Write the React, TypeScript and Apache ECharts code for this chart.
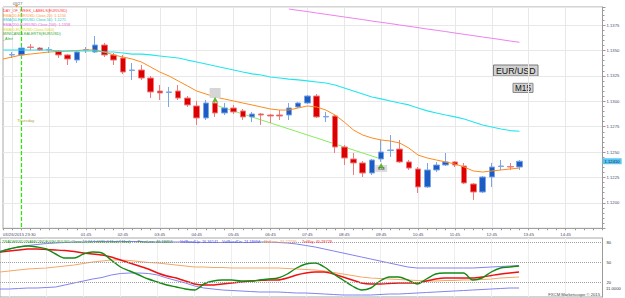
import React, { useEffect, useRef } from "react";
import * as echarts from "echarts";

const times: string[] = [
  "23:30", "23:45", "00:00", "00:15", "00:30", "00:45", "01:00", "01:15", "01:30", "01:45",
  "02:00", "02:15", "02:30", "02:45", "03:00", "03:15", "03:30", "03:45", "04:00", "04:15",
  "04:30", "04:45", "05:00", "05:15", "05:30", "05:45", "06:00", "06:15", "06:30", "06:45",
  "07:00", "07:15", "07:30", "07:45", "08:00", "08:15", "08:30", "08:45", "09:00", "09:15",
  "09:30", "09:45", "10:00", "10:15", "10:30", "10:45", "11:00", "11:15", "11:30", "11:45",
  "12:00", "12:15", "12:30", "12:45", "13:00", "13:15", "13:30", "13:45", "14:00", "14:15",
  "14:30", "14:45", "15:00", "15:15", "15:30", "15:45",
];
const firstLabel = "03/26/2015 23:30";
const labelTimes: string[] = [
  "01:45", "02:45", "03:45", "04:45", "05:45", "06:45", "07:45", "08:45",
  "09:45", "10:45", "11:45", "12:45", "13:45", "14:45",
];
const daySeparator = "00:00";
const priceMin = 1.1175;
const priceMax = 1.13928;

// [open, close, low, high]
const candles: (number[] | string)[] = [
  "-",
  [1.13456, 1.1346, 1.13426, 1.13485],
  [1.13456, 1.13524, 1.13436, 1.13544],
  [1.13534, 1.1353, 1.13505, 1.13564],
  [1.13524, 1.13505, 1.13495, 1.13534],
  [1.13505, 1.1351, 1.13475, 1.13534],
  [1.13495, 1.13456, 1.13426, 1.13505],
  [1.13456, 1.13416, 1.13357, 1.13465],
  [1.13406, 1.13485, 1.13377, 1.13505],
  [1.13505, 1.1351, 1.13475, 1.13534],
  [1.13485, 1.13554, 1.13475, 1.13643],
  [1.13554, 1.13456, 1.13436, 1.13574],
  [1.13456, 1.13406, 1.13357, 1.13475],
  [1.13426, 1.13288, 1.13268, 1.13456],
  [1.13303, 1.13308, 1.1321, 1.13377],
  [1.13308, 1.13229, 1.1321, 1.13357],
  [1.13229, 1.13092, 1.13032, 1.13249],
  [1.13101, 1.13082, 1.13013, 1.1316],
  [1.13087, 1.13092, 1.12944, 1.13141],
  [1.13101, 1.13032, 1.13013, 1.1316],
  [1.13032, 1.12964, 1.12944, 1.13052],
  [1.12954, 1.12836, 1.12767, 1.13003],
  [1.12836, 1.12983, 1.12816, 1.13013],
  [1.12983, 1.12885, 1.12846, 1.13032],
  [1.12885, 1.12934, 1.12865, 1.12983],
  [1.12934, 1.12895, 1.12875, 1.12964],
  [1.12905, 1.12846, 1.12816, 1.12924],
  [1.12846, 1.12875, 1.12796, 1.12895],
  [1.12875, 1.12865, 1.12767, 1.12885],
  [1.12865, 1.12855, 1.12786, 1.12875],
  [1.12865, 1.12855, 1.12816, 1.12914],
  [1.12865, 1.12934, 1.12816, 1.12983],
  [1.12944, 1.12983, 1.12934, 1.12993],
  [1.12983, 1.13052, 1.12973, 1.13062],
  [1.13052, 1.12846, 1.12836, 1.13072],
  [1.12846, 1.12851, 1.12796, 1.12895],
  [1.12855, 1.1255, 1.12491, 1.12865],
  [1.1255, 1.12442, 1.12373, 1.1257],
  [1.12432, 1.12393, 1.12275, 1.12491],
  [1.12393, 1.12294, 1.12255, 1.12412],
  [1.12294, 1.12422, 1.12275, 1.12432],
  [1.12432, 1.12501, 1.12403, 1.12619],
  [1.12516, 1.12521, 1.12452, 1.12668],
  [1.1253, 1.12403, 1.12393, 1.12619],
  [1.12403, 1.12343, 1.12324, 1.12422],
  [1.12334, 1.12157, 1.12097, 1.12353],
  [1.12157, 1.12324, 1.12147, 1.12393],
  [1.12324, 1.12373, 1.12304, 1.12403],
  [1.12373, 1.12403, 1.12363, 1.12491],
  [1.12403, 1.12373, 1.12353, 1.12412],
  [1.12363, 1.12196, 1.12186, 1.12393],
  [1.12186, 1.12107, 1.12029, 1.12196],
  [1.12107, 1.12255, 1.12097, 1.12265],
  [1.12255, 1.12353, 1.12157, 1.12393],
  [1.12358, 1.12363, 1.12324, 1.12422],
  [1.12358, 1.12353, 1.12324, 1.12393],
  [1.12353, 1.1241, 1.12324, 1.12422],
];

const ema20: number[] = [
  1.13416, 1.13436, 1.13456, 1.13465, 1.13475, 1.13485, 1.1349, 1.13495, 1.135, 1.13505,
  1.13505, 1.13485, 1.13456, 1.13436, 1.13416, 1.13387, 1.13338, 1.13288, 1.13249, 1.132,
  1.13151, 1.13101, 1.13072, 1.13042, 1.13023, 1.13003, 1.12983, 1.12964, 1.12944, 1.12924,
  1.12914, 1.12914, 1.12934, 1.12954, 1.12944, 1.12914, 1.12865, 1.12796, 1.12717, 1.12668,
  1.12639, 1.12619, 1.12609, 1.1259, 1.1254, 1.12471, 1.12442, 1.12422, 1.12403, 1.12383,
  1.12353, 1.12314, 1.12304, 1.12314, 1.12324, 1.12334, 1.12343,
];

const ema50: number[] = [
  1.13505, 1.13505, 1.13505, 1.13505, 1.13505, 1.13505, 1.13495, 1.13495, 1.13495, 1.13495,
  1.13495, 1.13485, 1.13485, 1.13475, 1.13465, 1.13465, 1.13456, 1.13446, 1.13436, 1.13426,
  1.13406, 1.13387, 1.13367, 1.13347, 1.13328, 1.13308, 1.13288, 1.13269, 1.13259, 1.13239,
  1.13229, 1.13219, 1.1321, 1.132, 1.1319, 1.1318, 1.1316, 1.13131, 1.13101, 1.13072,
  1.13042, 1.13023, 1.13003, 1.12983, 1.12964, 1.12934, 1.12905, 1.12885, 1.12865, 1.12846,
  1.12826, 1.12796, 1.12767, 1.12747, 1.12727, 1.12712, 1.12705,
];

// EMA200 from 07:15 onwards (earlier values are above the visible window)
const ema200Start = "07:15";
const ema200: number[] = [
  1.13908, 1.13895, 1.13883, 1.13869, 1.13856, 1.13843, 1.1383, 1.13817, 1.13804,
  1.1379, 1.13777, 1.13765, 1.13751, 1.13738, 1.13725, 1.13711, 1.13699, 1.13686, 1.13672,
  1.13659, 1.13646, 1.13633, 1.1362, 1.13607, 1.13593, 1.13581,
];

const trendTimes: string[] = ["05:15", "09:45"];
const trendValues: number[] = [1.12964, 1.12432];

const priceLine: number[] = [
  65, 69.5, 72.5, 74, 72.5, 69.5, 62, 56, 56, 62,
  65, 63.5, 53, 42.5, 36.5, 30.5, 24.5, 20, 15.5, 12.5,
  9.5, 8, 17, 21.5, 23, 23, 21.5, 21.5, 23, 24.5,
  26, 32, 41, 47, 48.5, 42.5, 32, 23, 14, 8,
  11, 21.5, 27.5, 27.5, 23, 17, 24.5, 32, 33.5, 33.5,
  33.5, 23, 26, 35, 41, 42.5, 44,
];

const tradeSignal: number[] = [
  65, 66.5, 68, 69.5, 69.5, 68.75, 68, 67.25, 65.75, 63.5,
  62, 60.5, 57.5, 53, 48.5, 44, 39.5, 33.5, 29, 26,
  21.5, 17, 15.5, 15.5, 17, 18.5, 20, 21.5, 22.25, 23,
  23, 26, 30.5, 33.5, 35, 35, 32, 27.5, 23, 18.5,
  17, 17, 17.75, 18.5, 18.5, 18.5, 21.5, 24.5, 26, 26,
  26, 26, 27.5, 29.75, 32, 33.5, 35,
];

const midLine: number[] = [
  35, 36.5, 38, 39.5, 40.25, 41, 42.5, 44, 45.5, 47.75,
  50, 51.5, 53, 53, 52.25, 50.75, 49.25, 48.5, 47, 45.5,
  44, 42.5, 42.5, 41.75, 41.75, 41, 41, 41, 41, 41,
  41, 40.25, 39.5, 38.75, 38, 36.5, 34.25, 32, 29.75, 27.5,
  26, 25.25, 24.5, 23.75, 23, 22.25, 21.5, 21.5, 22.25, 22.25,
  23, 23, 23.75, 24.5, 26, 26.75, 27.5,
];

const volBandUp: number[] = [
  66.5, 69.5, 72.5, 74.75, 76.25, 77.75, 78.5, 79.25, 80, 80,
  80.75, 80.75, 80.75, 80.75, 80.75, 80.75, 80, 80, 80, 80,
  80, 79.25, 79.25, 79.25, 79.25, 79.25, 79.25, 79.25, 80, 80,
  79.25, 78.5, 77, 74.75, 72.5, 69.5, 66.5, 63.5, 60.5, 57.5,
  54.5, 51.5, 48.5, 45.5, 42.5, 41, 41, 41, 41, 41,
  41, 41, 41.75, 42.5, 43.25, 44, 44.75,
];

const volBandDn: number[] = [
  9.5, 9.5, 10.25, 11, 11, 11.75, 12.5, 15.5, 18.5, 21.5,
  24.5, 26.75, 30.5, 32.75, 33.5, 33.5, 32.75, 30.5, 26, 22.25,
  18.5, 14, 11, 9.5, 8, 7.25, 6.5, 5.75, 5, 5,
  5, 4.25, 3.5, 3.5, 2.75, 2, 1.25, 0.5, 0.5, 0.5,
  0.5, 1.25, 2, 2, 2.75, 3.5, 4.25, 5, 5.75, 6.5,
  7.25, 8, 8.75, 9.5, 10.25, 11, 11,
];

const levels: number[] = [80, 50, 20];
const lastPrice = 1.1241;

const FONT = '"Liberation Sans", Arial, sans-serif';

function txt(text: string, x: number, y: number, fill: string, size = 3.8, align = "left") {
  return {
    type: "text",
    x,
    y,
    silent: true,
    z: 100,
    style: { text, fill, fontSize: size, fontFamily: FONT, align, verticalAlign: "middle" },
  };
}

export default function App() {
  const ref = useRef<HTMLDivElement>(null);

  useEffect(() => {
    if (!ref.current) return;
    const chart = echarts.init(ref.current, null, { renderer: "svg" });
    const showLabel = (i: number, v: string) => i === 0 || labelTimes.indexOf(String(v)) >= 0;
    const gridLine = (i: number, v: string) => String(v).endsWith(":45");
    const ema200Index = times.indexOf(ema200Start);

    const option: any = {
      animation: false,
      backgroundColor: "#ffffff",
      textStyle: { fontFamily: FONT },
      grid: [
        { left: -2, top: 7, width: 604.5, height: 221.3, show: true, borderColor: "#a8a8a8", borderWidth: 1, backgroundColor: "#ffffff" },
        { left: -2, top: 238, width: 604.5, height: 59, show: true, borderColor: "#a8a8a8", borderWidth: 1, backgroundColor: "#ffffff" },
      ],
      xAxis: [
        {
          type: "category",
          gridIndex: 0,
          data: times,
          boundaryGap: false,
          axisLine: { show: true, lineStyle: { color: "#a0a0a0" } },
          axisTick: { show: true, interval: 0, length: 2, lineStyle: { color: "#9a9a9a" } },
          axisLabel: {
            interval: showLabel,
            formatter: (v: string) => (v === times[0] ? firstLabel : v),
            fontSize: 4.2,
            color: "#4a4a6a",
            margin: 4,
            fontFamily: FONT,
            alignMinLabel: "left",
          },
          splitLine: { show: true, interval: gridLine, lineStyle: { color: "#e8e8e8", width: 1 } },
        },
        {
          type: "category",
          gridIndex: 1,
          data: times,
          boundaryGap: false,
          axisLine: { show: false },
          axisTick: { show: false },
          axisLabel: { show: false },
          splitLine: { show: true, interval: gridLine, lineStyle: { color: "#eeeeee", width: 1 } },
        },
      ],
      yAxis: [
        {
          type: "value",
          gridIndex: 0,
          position: "right",
          min: priceMin,
          max: priceMax,
          interval: 0.0025,
          axisLine: { show: true, lineStyle: { color: "#9a9a9a" } },
          axisTick: { show: true, length: 3, lineStyle: { color: "#9a9a9a" } },
          minorTick: { show: true, splitNumber: 5, length: 2, lineStyle: { color: "#9a9a9a" } },
          axisLabel: {
            formatter: (v: number) => v.toFixed(4),
            fontSize: 4.2,
            color: "#4a4a6a",
            margin: 4,
            showMinLabel: false,
            showMaxLabel: false,
            fontFamily: FONT,
          },
          splitLine: { show: true, lineStyle: { color: "#e8e8e8", width: 1 } },
        },
        {
          type: "value",
          gridIndex: 1,
          position: "right",
          min: -2.5,
          max: 86,
          axisLine: { show: true, lineStyle: { color: "#9a9a9a" } },
          axisTick: { show: false },
          axisLabel: { show: false },
          splitLine: { show: false },
        },
      ],
      series: [
        {
          type: "line",
          name: "DaySeparator",
          xAxisIndex: 0,
          yAxisIndex: 0,
          data: [[daySeparator, priceMax], [daySeparator, priceMin]],
          symbol: "none",
          silent: true,
          z: 1,
          color: "#2fe60a",
          lineStyle: { color: "#2fe60a", type: [4, 2], width: 1.3, opacity: 1 },
        },
        {
          type: "candlestick",
          xAxisIndex: 0,
          yAxisIndex: 0,
          data: candles,
          barWidth: 6,
          z: 3,
          itemStyle: {
            color: "#1c5cc4",
            color0: "#de0000",
            borderColor: "#7aa6e6",
            borderColor0: "#ee7c7c",
            borderWidth: 1,
          },
          markPoint: {
            silent: true,
            data: [
              { coord: ["05:15", 1.13082], symbol: "rect", symbolSize: [11, 10], itemStyle: { color: "#d6d6d6" }, label: { show: false } },
              { coord: ["05:15", 1.13042], symbol: "arrow", symbolSize: [5, 6], itemStyle: { color: "#5cb82e" }, label: { show: false } },
              { coord: ["09:45", 1.12339], symbol: "rect", symbolSize: [12, 7], itemStyle: { color: "#dcdcdc" }, label: { show: true, position: "inside", formatter: "334", fontSize: 4.2, color: "#333333", fontFamily: FONT } },
              { coord: ["09:45", 1.12393], symbol: "arrow", symbolSize: [5, 6], itemStyle: { color: "#5cb82e" }, label: { show: false } },
            ],
          },
        },
        {
          type: "line", name: "EMA20", xAxisIndex: 0, yAxisIndex: 0, data: ema20,
          symbol: "none", lineStyle: { color: "#ff8a1c", width: 1 }, z: 4,
          markLine: {
            symbol: "none",
            silent: true,
            precision: 6,
            lineStyle: { color: "rgba(255,255,255,0)", width: 0.1 },
            label: {
              show: true,
              position: "end",
              formatter: lastPrice.toFixed(5),
              backgroundColor: "#5cc6f2",
              color: "#112244",
              fontSize: 4.2,
              padding: [1, 2],
              distance: 0,
              fontFamily: FONT,
            },
            data: [{ yAxis: lastPrice }],
          },
        },
        {
          type: "line", name: "EMA50", xAxisIndex: 0, yAxisIndex: 0, data: ema50,
          symbol: "none", lineStyle: { color: "#22e6ee", width: 1.2 }, z: 4,
        },
        {
          type: "line", name: "EMA200", xAxisIndex: 0, yAxisIndex: 0,
          data: ema200.map((v, k) => [times[ema200Index + k], v]),
          symbol: "none", lineStyle: { color: "#ee80ee", width: 1 }, z: 4,
        },
        {
          type: "line", name: "Trend", xAxisIndex: 0, yAxisIndex: 0,
          data: trendTimes.map((t, k) => [t, trendValues[k]]),
          symbol: "none", lineStyle: { color: "#86ec62", width: 1 }, z: 2,
        },
        {
          type: "line", name: "VolBandUp", xAxisIndex: 1, yAxisIndex: 1, data: volBandUp,
          symbol: "none", lineStyle: { color: "#8282f0", width: 1 },
          markLine: {
            symbol: "none",
            silent: true,
            lineStyle: { color: "#a0a0a0", type: "dotted", width: 1 },
            label: { show: true, position: "end", formatter: "{c}", fontSize: 4.2, color: "#333333", distance: 4, fontFamily: FONT },
            data: levels.map((l) => ({ yAxis: l })),
          },
        },
        {
          type: "line", name: "VolBandDn", xAxisIndex: 1, yAxisIndex: 1, data: volBandDn,
          symbol: "none", lineStyle: { color: "#8282f0", width: 1 },
        },
        {
          type: "line", name: "MidLine", xAxisIndex: 1, yAxisIndex: 1, data: midLine,
          symbol: "none", lineStyle: { color: "#f5a868", width: 1.2 },
        },
        {
          type: "line", name: "TrdSig", xAxisIndex: 1, yAxisIndex: 1, data: tradeSignal,
          symbol: "none", smooth: 0.2, lineStyle: { color: "#ee1111", width: 1.4 },
        },
        {
          type: "line", name: "PriceLine", xAxisIndex: 1, yAxisIndex: 1, data: priceLine,
          symbol: "none", smooth: 0.3, lineStyle: { color: "#158a15", width: 1.4 },
        },
      ],
      graphic: [
        txt("03/27", 17.5, 3.5, "#556677", 3.8, "center"),
        { type: "polygon", silent: true, z: 100, shape: { points: [[14.8, 5], [18.2, 5], [16.5, 7.5]] }, style: { fill: "#ff9900" } },
        txt("DAY_OF_WEEK_LABELS(EUR/USD)", 3, 11, "#ff4040"),
        txt("EMA(20,EUR/USD,Close,20): 1.1234", 3, 15.7, "#ff9933"),
        txt("EMA(50,EUR/USD,Close,50): 1.1271", 3, 20.3, "#22c8d0"),
        txt("EMA(200,EUR/USD,Close,200): 1.1358", 3, 25, "#dd66dd"),
        txt("EMA(5,EUR/USD,Close,5000)", 3, 29.5, "#d8d820"),
        txt("MINICANDLEALERTS(EUR/USD)", 3, 34, "#33aa33"),
        txt("_Alert", 3, 38.5, "#33aa33"),
        txt("Thursday", 17, 120.5, "#a8a838", 4.2),
        {
          type: "group",
          z: 100,
          silent: true,
          children: [
            { type: "rect", shape: { x: 493.5, y: 65, width: 44.5, height: 11 }, style: { fill: "#d2d2d2", stroke: "#7a7a7a", lineWidth: 1 } },
            { type: "text", x: 515.8, y: 70.7, style: { text: "EUR/USD", fill: "#111111", fontSize: 8.8, fontFamily: FONT, align: "center", verticalAlign: "middle" } },
            { type: "rect", shape: { x: 513, y: 83.3, width: 20, height: 9.2 }, style: { fill: "#d2d2d2", stroke: "#8a8a8a", lineWidth: 1 } },
            { type: "text", x: 523, y: 88, style: { text: "M15", fill: "#111111", fontSize: 8.2, fontFamily: FONT, align: "center", verticalAlign: "middle" } },
          ],
        },
        txt("TRADERSDYNAMICINDEX(EUR/USD,Close,13,34,1.6180,2,Mod,7,Mod)", 2, 241.3, "#2e9e2e", 3.95),
        txt("- PriceLine: 46.18453", 135, 241.3, "#1d8a1d", 3.95),
        txt("VolBandUp: 16.36141", 180, 241.3, "#4a4ae8", 3.95),
        txt("VolBandDn: 24.18054", 222, 241.3, "#4a4ae8", 3.95),
        txt("MidLine: 31.22739", 264, 241.3, "#f09a50", 3.95),
        txt("TrdSig: 40.28728", 302, 241.3, "#f03030", 3.95),
        txt("11.0000", 606, 288, "#333344", 4.2),
        txt("FXCM Marketscope \u00a9 2015", 600, 294, "#444444", 4.2, "right"),
      ],
    };

    chart.setOption(option);
    return () => chart.dispose();
  }, []);

  return (
    <div
      ref={ref}
      style={{ position: "absolute", left: 0, top: 0, width: 625, height: 298, background: "#ffffff" }}
    />
  );
}
